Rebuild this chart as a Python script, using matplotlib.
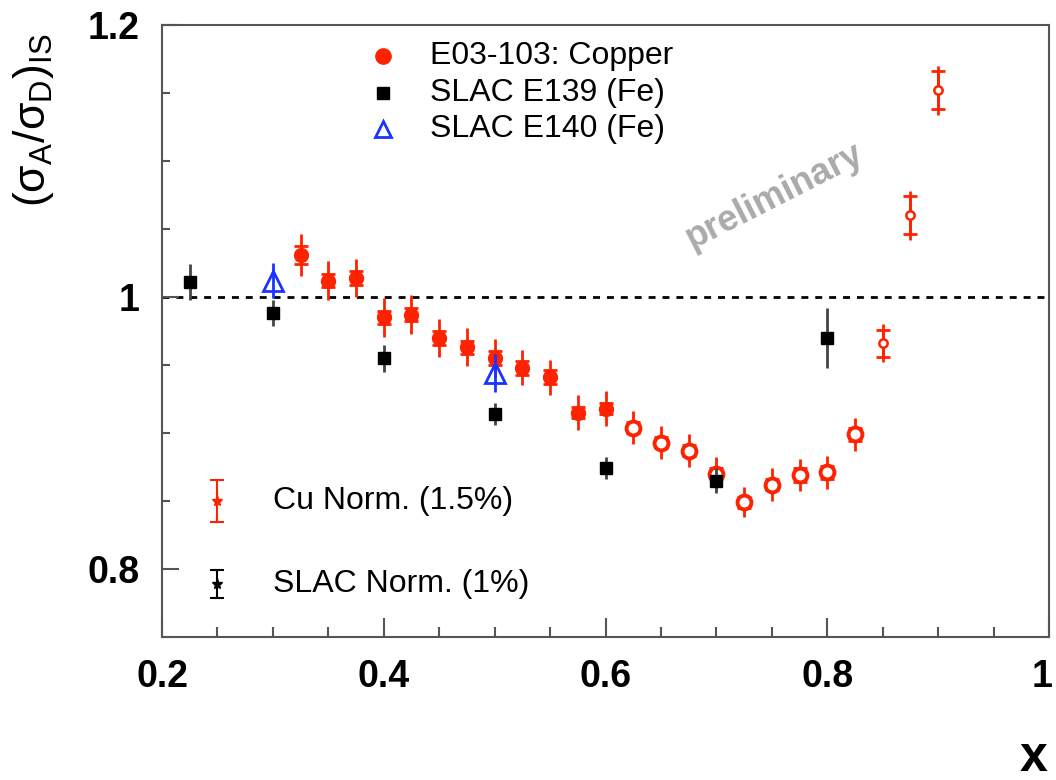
import matplotlib
matplotlib.use('Agg')
import matplotlib.pyplot as plt
import matplotlib.transforms as mtransforms
import numpy as np
from matplotlib.ticker import MultipleLocator

plt.rcParams['font.family'] = ['Liberation Sans', 'DejaVu Sans']
plt.rcParams['mathtext.default'] = 'regular'

# E03-103 copper
x_cu = [0.325, 0.35, 0.375, 0.4, 0.425, 0.45, 0.475, 0.5, 0.525, 0.55, 0.575, 0.6,
        0.625, 0.65, 0.675, 0.7, 0.725, 0.75, 0.775, 0.8, 0.825, 0.85, 0.875, 0.9]
y_cu = [1.031, 1.012, 1.014, 0.985, 0.987, 0.970, 0.963, 0.955, 0.948, 0.941, 0.915, 0.918,
        0.904, 0.893, 0.887, 0.870, 0.849, 0.862, 0.869, 0.871, 0.899, 0.966, 1.060, 1.152]
tot_cu = [0.0155, 0.0145, 0.014, 0.0145, 0.0145, 0.014, 0.014, 0.014, 0.013, 0.013, 0.013, 0.013,
          0.012, 0.012, 0.012, 0.012, 0.011, 0.012, 0.012, 0.012, 0.012, 0.014, 0.018, 0.018]
stat_cu = [0.0066, 0.005, 0.005, 0.005, 0.005, 0.005, 0.005, 0.005, 0.005, 0.005, 0.004, 0.004,
           0.004, 0.004, 0.004, 0.004, 0.004, 0.004, 0.005, 0.005, 0.005, 0.0098, 0.014, 0.014]
# marker style per point: 0 = filled, 1 = open, 2 = small open
kind_cu = [0] * 12 + [1] * 9 + [2] * 3

# SLAC E139 (Fe)
x_e139 = [0.225, 0.3, 0.4, 0.5, 0.6, 0.7, 0.8]
y_e139 = [1.011, 0.988, 0.955, 0.914, 0.874, 0.865, 0.970]
err_e139 = [0.013, 0.0096, 0.0098, 0.008, 0.008, 0.009, 0.022]

# SLAC E140 (Fe)
x_e140 = [0.3, 0.5]
y_e140 = [1.012, 0.944]
err_e140 = [0.013, 0.014]

# normalisation markers
norm_x = [0.25, 0.25]
norm_y = [0.85, 0.789]
norm_err = [0.0155, 0.0103]
norm_labels = ['Cu Norm. (1.5%)', 'SLAC Norm. (1%)']

red = '#ff2200'
blue = '#1a33ff'

fig = plt.figure(figsize=(10.56, 7.8), dpi=100)
ax = fig.add_axes([162 / 1056, 1 - 637 / 780, (1049 - 162) / 1056, (637 - 25) / 780])

ax.axhline(1.0, color='black', lw=2, ls=(0, (2.5, 2.5)), zorder=1)

x_cu = np.array(x_cu)
y_cu = np.array(y_cu)
kind_cu = np.array(kind_cu)

ax.errorbar(x_cu, y_cu, yerr=tot_cu, fmt='none', ecolor=red, elinewidth=2, zorder=2)
ax.errorbar(x_cu, y_cu, yerr=stat_cu, fmt='none', ecolor=red, elinewidth=2,
            capsize=5, capthick=2, zorder=2)
m = kind_cu == 0
ax.plot(x_cu[m], y_cu[m], 'o', color=red, ms=10, zorder=3)
m = kind_cu == 1
ax.plot(x_cu[m], y_cu[m], 'o', mfc='white', mec=red, mew=2.8, ms=10, zorder=3)
m = kind_cu == 2
ax.plot(x_cu[m], y_cu[m], 'o', mfc='white', mec=red, mew=1.8, ms=6, zorder=3)

ax.errorbar(x_e139, y_e139, yerr=err_e139, fmt='s', color='black', ecolor='#444444',
            elinewidth=2, ms=9, zorder=4)
ax.errorbar(x_e140, y_e140, yerr=err_e140, fmt='^', mfc='none', mec=blue, mew=2,
            ecolor=blue, elinewidth=2, ms=14, zorder=4)

for xv, yv, ev, c, lab in zip(norm_x, norm_y, norm_err, [red, 'black'], norm_labels):
    ax.errorbar([xv], [yv], yerr=[ev], fmt='*', color=c, ms=8, elinewidth=1.5,
                capsize=5, capthick=1.5)
    ax.text(0.2 + (273 - 162) / 1107.5, yv, lab, fontsize=23, va='center', ha='left')

# legend drawn by hand like the original
leg_y = [56, 93, 129]
leg_labels = ['E03-103: Copper', 'SLAC E139 (Fe)', 'SLAC E140 (Fe)']
leg_style = [dict(marker='o', color=red, ms=11),
             dict(marker='s', color='black', ms=9),
             dict(marker='^', mfc='none', mec=blue, mew=2, ms=12)]
for py, lab, st in zip(leg_y, leg_labels, leg_style):
    fy = 1 - py / 780
    fig.lines.append(plt.Line2D([383 / 1056], [fy], transform=fig.transFigure, ls='none', **st))
    fig.text(430 / 1056, fy, lab, fontsize=23, va='center', ha='left')

ax.text(0.752, 1.074, 'preliminary', rotation=27, color='#aaaaaa', fontsize=26,
        weight='bold', ha='center', va='center')

ax.set_xlim(0.2, 1.0)
ax.set_ylim(0.75, 1.2)
ax.set_xticks([0.2, 0.4, 0.6, 0.8, 1.0])
ax.set_xticklabels(['0.2', '0.4', '0.6', '0.8', '1'])
ax.set_yticks([0.8, 1.0, 1.2])
ax.set_yticklabels(['0.8', '1', '1.2'])
ax.xaxis.set_minor_locator(MultipleLocator(0.05))
ax.yaxis.set_minor_locator(MultipleLocator(0.05))
ax.tick_params(which='both', direction='in', top=False, right=False, color='#555555', width=1.5)
ax.tick_params(axis='x', which='major', length=14, pad=16, labelsize=27)
ax.tick_params(axis='x', which='minor', length=7)
ax.tick_params(axis='y', which='major', length=12, pad=16, labelsize=27)
ax.tick_params(axis='y', which='minor', length=6)
for lbl in ax.get_xticklabels() + ax.get_yticklabels():
    lbl.set_fontweight('bold')
# keep the last x label inside the canvas
last = ax.get_xticklabels()[-1]
last.set_transform(last.get_transform() + mtransforms.ScaledTranslation(-5 / 72, 0, fig.dpi_scale_trans))
for sp in ax.spines.values():
    sp.set_linewidth(1.5)
    sp.set_color('#555555')

fig.text(33 / 1056, 1 - 120 / 780, r'$(\sigma_A/\sigma_D)_{IS}$', rotation=90,
         fontsize=32, ha='center', va='center')
fig.text(1047 / 1056, 1 - 758 / 780, 'x', fontsize=36, weight='bold', ha='right', va='center')

fig.savefig('out.png', dpi=100)
